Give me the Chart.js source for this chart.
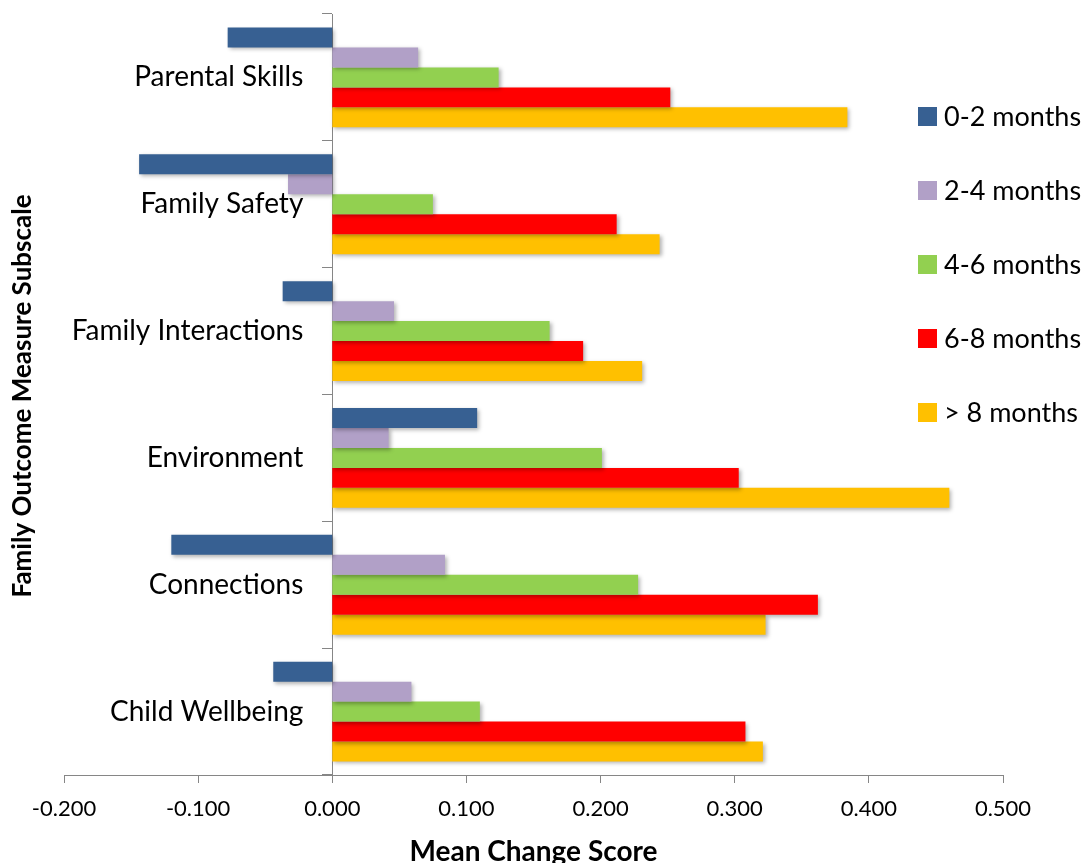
<!DOCTYPE html>
<html>
<head>
<meta charset="utf-8">
<script src="https://cdn.jsdelivr.net/npm/chart.js@4/dist/chart.umd.min.js"></script>
<style>
  html, body { margin: 0; padding: 0; background: #fff; }
</style>
</head>
<body>
<canvas id="chart" width="1087" height="863"></canvas>
<script>
const categories = ['Parental Skills', 'Family Safety', 'Family Interactions', 'Environment', 'Connections', 'Child Wellbeing']
const seriesNames = ['0-2 months', '2-4 months', '4-6 months', '6-8 months', '> 8 months']
const months0to2 = [-0.078, -0.144, -0.037, 0.108, -0.120, -0.044]
const months2to4 = [0.064, -0.033, 0.046, 0.042, 0.084, 0.059]
const months4to6 = [0.124, 0.075, 0.162, 0.201, 0.228, 0.110]
const months6to8 = [0.252, 0.212, 0.187, 0.303, 0.362, 0.308]
const monthsOver8 = [0.384, 0.244, 0.231, 0.460, 0.323, 0.321]
const xMin = -0.2
const xMax = 0.5
const xStep = 0.1

const colors = ['#376092', '#B1A0C7', '#92D050', '#FF0000', '#FFC000']
const allSeries = [months0to2, months2to4, months4to6, months6to8, monthsOver8]

// soft drop shadow under the bars, like the office chart
const barShadow = {
  id: 'barShadow',
  beforeDatasetsDraw(chart) {
    let c = chart.ctx
    c.save()
    c.shadowColor = 'rgba(0,0,0,0.3)'
    c.shadowBlur = 4
    c.shadowOffsetX = 2
    c.shadowOffsetY = 2
  },
  afterDatasetsDraw(chart) {
    chart.ctx.restore()
  }
}

// legend sits over the right side of the plot, and the y title is drawn by hand
const sideText = {
  id: 'sideText',
  afterDraw(chart) {
    let c = chart.ctx
    c.save()
    c.font = '27px Lato'
    c.textBaseline = 'middle'
    c.textAlign = 'left'
    chart.data.datasets.forEach(function(ds, i) {
      let y = 116 + i * 74
      c.fillStyle = ds.backgroundColor
      c.fillRect(918, y - 9, 19, 19)
      c.fillStyle = '#000'
      c.fillText(ds.label, 944, y + 1)
    })
    c.translate(23, 396)
    c.rotate(-Math.PI / 2)
    c.textAlign = 'center'
    c.font = 'bold 26px Lato'
    c.fillText('Family Outcome Measure Subscale', 0, 0)
    c.restore()
  }
}

let ctx = document.getElementById('chart').getContext('2d')
let chart = new Chart(ctx, {
  type: 'bar',
  data: {
    labels: categories,
    datasets: allSeries.map(function(vals, i) {
      return {
        label: seriesNames[i],
        data: vals,
        backgroundColor: colors[i],
        borderWidth: 0,
        categoryPercentage: 0.787,
        barPercentage: 1
      }
    })
  },
  options: {
    indexAxis: 'y',
    responsive: false,
    animation: false,
    layout: { padding: { left: 64, right: 84, top: 14, bottom: -6 } },
    plugins: {
      legend: { display: false },
      tooltip: { enabled: false }
    },
    scales: {
      x: {
        min: xMin,
        max: xMax,
        grid: { drawOnChartArea: false, tickLength: 8, color: '#868686' },
        border: { color: '#868686' },
        ticks: {
          stepSize: xStep,
          padding: 13,
          color: '#000',
          font: { family: 'Lato', size: 22 },
          callback: function(v) {
            if (Math.abs(v) < 1e-9) v = 0
            return Number(v).toFixed(3)
          }
        },
        title: {
          display: true,
          text: 'Mean Change Score',
          color: '#000',
          font: { family: 'Lato', size: 28, weight: 'bold' },
          padding: { top: 0, bottom: 0 }
        }
      },
      // axis line + tick marks at zero
      y: {
        position: { x: 0 },
        grid: { offset: true, drawOnChartArea: false, tickLength: 10, color: '#868686' },
        border: { color: '#868686' },
        ticks: { display: false }
      },
      // category names, a little left of the zero line
      yNames: {
        type: 'category',
        axis: 'y',
        offset: true,
        position: { x: -0.0216 },
        grid: { display: false },
        border: { display: false },
        ticks: {
          padding: 0,
          color: '#000',
          font: { family: 'Lato', size: 28, lineHeight: 0.9 }
        }
      }
    }
  },
  plugins: [barShadow, sideText]
})
</script>
</body>
</html>
